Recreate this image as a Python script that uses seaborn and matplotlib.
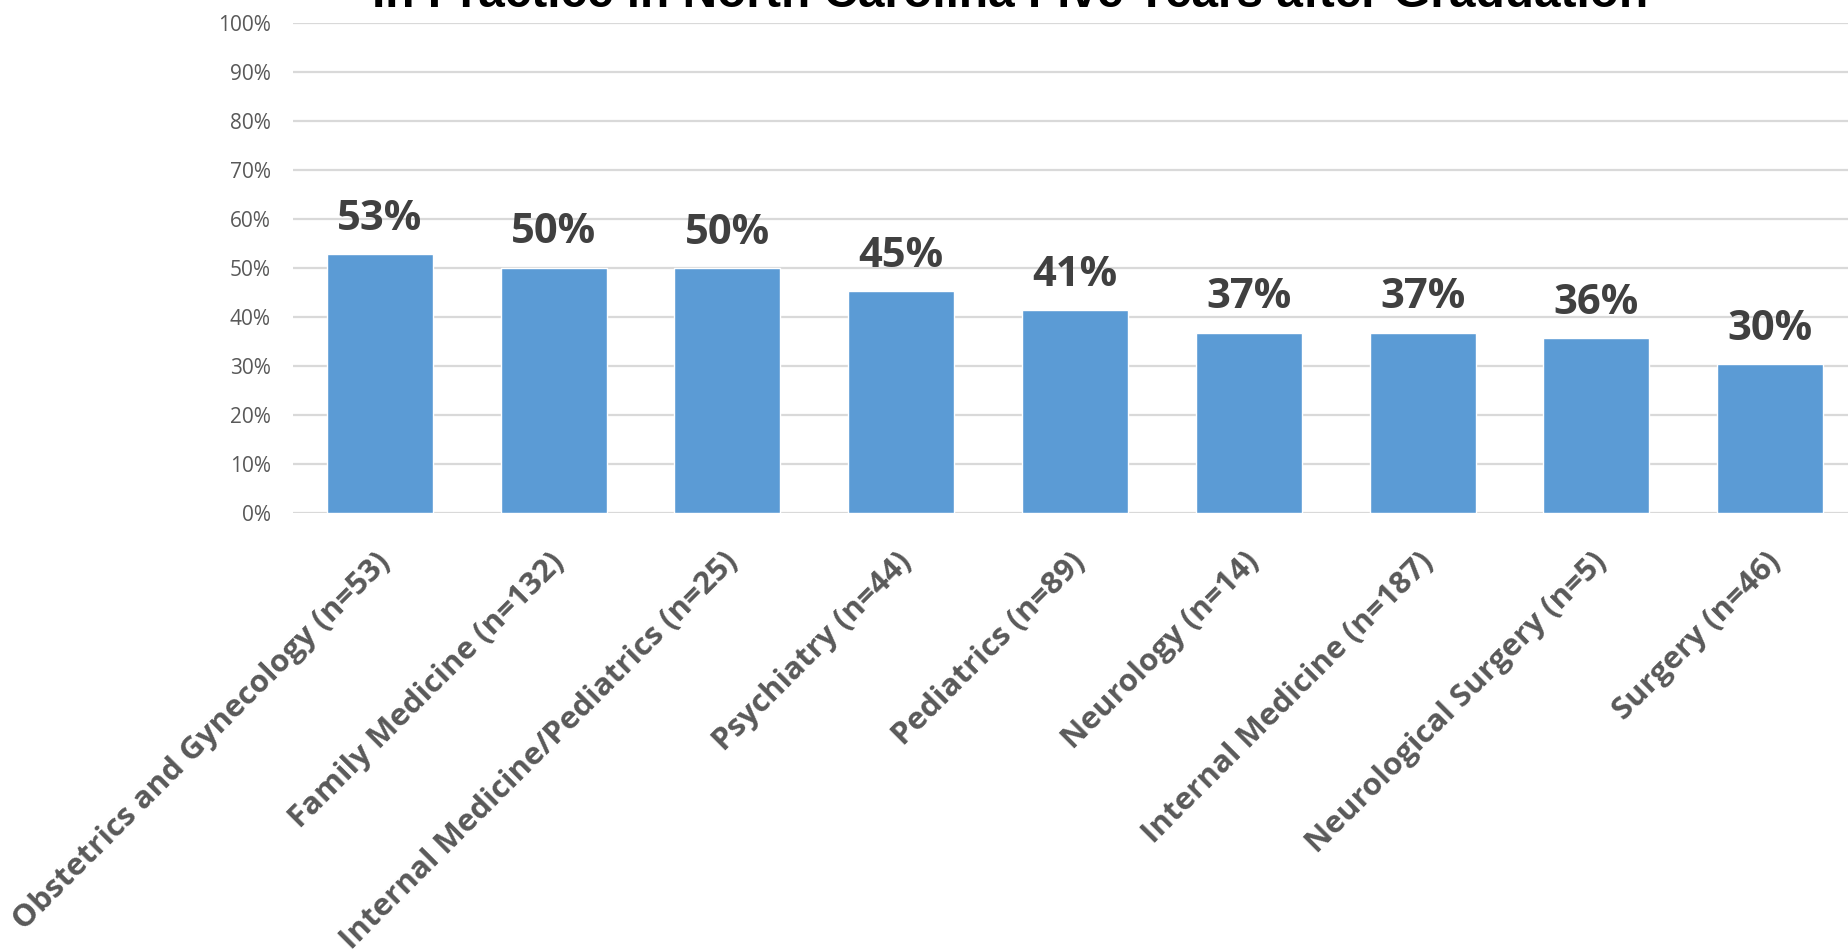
import matplotlib
matplotlib.use("Agg")
import matplotlib.pyplot as plt
import matplotlib.transforms as mtransforms
import seaborn as sns
import pandas as pd

# Values
specialties = [
    "Obstetrics and Gynecology (n=53)",
    "Family Medicine (n=132)",
    "Internal Medicine/Pediatrics (n=25)",
    "Psychiatry (n=44)",
    "Pediatrics (n=89)",
    "Neurology (n=14)",
    "Internal Medicine (n=187)",
    "Neurological Surgery (n=5)",
    "Surgery (n=46)",
]
pct_in_nc = [52.9, 50.1, 49.9, 45.3, 41.4, 36.8, 36.8, 35.7, 30.4]
value_labels = ["53%", "50%", "50%", "45%", "41%", "37%", "37%", "36%", "30%"]
yticks = list(range(0, 101, 10))
title = "In Practice in North Carolina Five Years after Graduation"

df = pd.DataFrame({"Specialty": specialties, "Percent": pct_in_nc})

sns.set_style("white")
plt.rcParams["font.family"] = ["Open Sans", "DejaVu Sans"]

W, H = 1849, 949
fig = plt.figure(figsize=(W / 100, H / 100), dpi=100)
# plot area runs past the right edge, as in the cropped original
ax = fig.add_axes([293 / W, 1 - 512.7 / H, 1564 / W, (512.7 - 23.3) / H])

sns.barplot(data=df, x="Specialty", y="Percent", color="#5B9BD5",
            saturation=1, width=0.61, ax=ax, zorder=3)

ax.set_ylim(0, 100)
ax.set_xlim(-0.5, len(specialties) - 0.5)
ax.set_yticks(yticks)
ax.set_yticklabels([f"{t}%" for t in yticks], fontsize=15, color="#595959")
ax.yaxis.grid(True, color="#D9D9D9", linewidth=1.6, zorder=0)
ax.set_axisbelow(True)
for s in ax.spines.values():
    s.set_visible(False)
ax.tick_params(axis="both", length=0)
ax.tick_params(axis="y", pad=16)
ax.set_xlabel("")
ax.set_ylabel("")

# rotated category labels
offset = mtransforms.ScaledTranslation(6 / 100, -40 / 100, fig.dpi_scale_trans)
ax.set_xticks(range(len(specialties)))
ax.set_xticklabels(specialties, rotation=45, ha="right", va="center",
                   rotation_mode="anchor", fontsize=22.5, fontweight="bold",
                   color="#595959")
for lab in ax.get_xticklabels():
    lab.set_transform(lab.get_transform() + offset)

# value labels above bars
for i, (v, txt) in enumerate(zip(pct_in_nc, value_labels)):
    ax.annotate(txt, (i, v), xytext=(0, 17.5), textcoords="offset points",
                ha="center", va="baseline", fontsize=30, fontweight="bold",
                color="#404040")

fig.text(1010 / W, 1 - 7 / H, title, ha="center", va="baseline",
         fontsize=34.4, fontweight="bold", color="black",
         family=["Liberation Sans", "DejaVu Sans"])

fig.savefig("out.png", dpi=100)
